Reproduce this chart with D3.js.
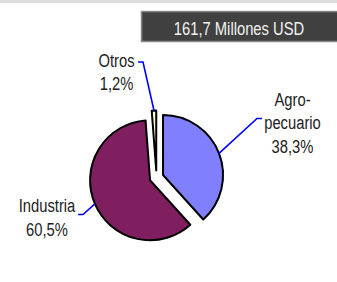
<!DOCTYPE html>
<html>
<head>
<meta charset="utf-8">
<script src="https://cdnjs.cloudflare.com/ajax/libs/d3/7.8.5/d3.min.js"></script>
<style>
  body { margin: 0; background: #fff; }
  svg text { font-family: "Liberation Sans", Arial, sans-serif; }
</style>
</head>
<body>
<svg id="chart"></svg>
<script>
// data
var categories = ["Agro-|pecuario", "Industria", "Otros"];
var values = [38.3, 60.5, 1.2];
var colors = ["#8080ff", "#7f1f5f", "#ffffcc"];
var total = "161,7 Millones USD";

var w = 337, h = 282;
var cx = 156.5, cy = 177.5, r = 60, explode = 7;
var narrow = 0.82; // no Arial Narrow here, squeeze Liberation Sans

var svg = d3.select("#chart")
    .attr("width", w)
    .attr("height", h);

function narrowText(sel) {
    sel.each(function() {
        var len = this.getComputedTextLength();
        d3.select(this)
          .attr("textLength", len * narrow)
          .attr("lengthAdjust", "spacingAndGlyphs");
    });
}

// strip at top (cut from header)
svg.append("rect")
   .attr("x", 0).attr("y", 0)
   .attr("width", w).attr("height", 3)
   .attr("fill", "#dedede");

// total box
svg.append("rect")
   .attr("x", 141.5).attr("y", 11.5)
   .attr("width", 200).attr("height", 30)
   .attr("fill", "#404040")
   .attr("stroke", "#8a8a8a")
   .attr("stroke-width", 1.5);

svg.append("text")
   .attr("x", 239)
   .attr("y", 34.5)
   .attr("text-anchor", "middle")
   .attr("fill", "#f2f2f2")
   .style("font-size", "18px")
   .text(total)
   .call(narrowText);

var pie = d3.pie().sort(null).value(function(d) { return d; });
var arcs = pie(values);

var arc = d3.arc().innerRadius(0).outerRadius(r);
var edge = d3.arc().innerRadius(r).outerRadius(r);

function offset(d) {
    var a = (d.startAngle + d.endAngle) / 2;
    return [Math.sin(a) * explode, -Math.cos(a) * explode];
}

var g = svg.append("g")
    .attr("transform", "translate(" + cx + "," + cy + ")");

g.selectAll("path.slice")
 .data(arcs)
 .enter()
 .append("path")
 .attr("class", "slice")
 .attr("transform", function(d) { var o = offset(d); return "translate(" + o[0] + "," + o[1] + ")"; })
 .attr("d", arc)
 .attr("fill", function(d, i) { return colors[i]; })
 .attr("stroke", "#000")
 .attr("stroke-width", 2)
 .attr("stroke-linejoin", "round");

// label placement (elbow, tail end, text centre, first baseline) relative to pie centre
var labelPos = [
    {elbow: [100.5, -59], end: [105.5, -59], tx: 136, ty: -72},
    {elbow: [-73.5, 37], end: [-78.5, 37], tx: -109.5, ty: 34.5},
    {elbow: [-13.5, -115.5], end: [-18.5, -115.5], tx: -40, ty: -111}
];

arcs.forEach(function(d, i) {
    var o = offset(d);
    var c = edge.centroid(d);
    var p = labelPos[i];
    var pts = [[c[0] + o[0], c[1] + o[1]], p.elbow, p.end];

    g.append("path")
     .attr("d", d3.line()(pts))
     .attr("fill", "none")
     .attr("stroke", "#0000ff")
     .attr("stroke-width", 1.6);

    var lines = categories[i].split("|");
    lines.push(d3.format(".1f")(values[i]).replace(".", ",") + "%");

    lines.forEach(function(s, j) {
        g.append("text")
         .attr("x", p.tx)
         .attr("y", p.ty + j * 23.5)
         .attr("text-anchor", "middle")
         .attr("fill", "#222")
         .style("font-size", "18px")
         .text(s)
         .call(narrowText);
    });
});
</script>
</body>
</html>
